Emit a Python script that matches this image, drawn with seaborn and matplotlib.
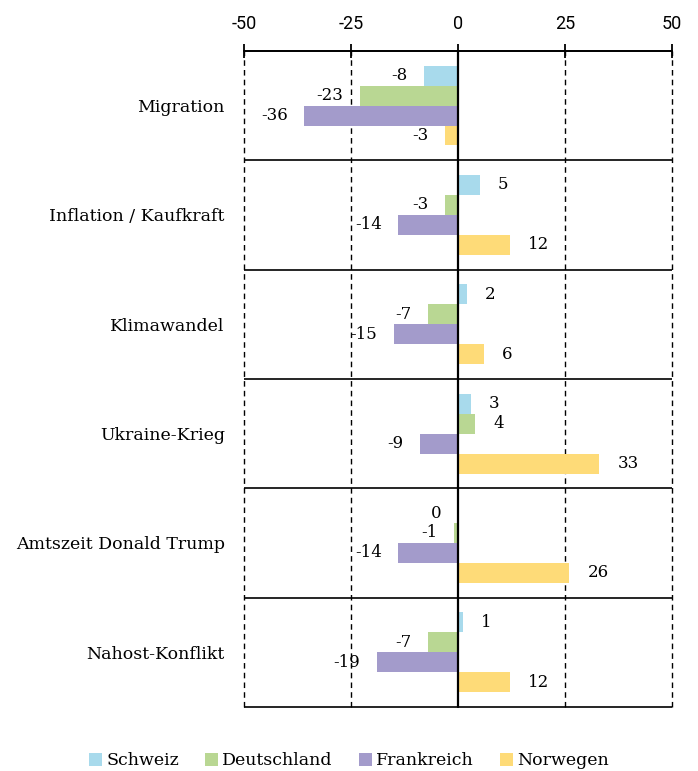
import matplotlib
matplotlib.use("Agg")
from matplotlib import pyplot as plt
from matplotlib.patches import Patch
import pandas as pd
import seaborn as sns

categories = ["Migration", "Inflation / Kaufkraft", "Klimawandel", "Ukraine-Krieg",
              "Amtszeit Donald Trump", "Nahost-Konflikt"]
countries = ["Schweiz", "Deutschland", "Frankreich", "Norwegen"]
schweiz = [-8, 5, 2, 3, 0, 1]
deutschland = [-23, -3, -7, 4, -1, -7]
frankreich = [-36, -14, -15, -9, -14, -19]
norwegen = [-3, 12, 6, 33, 26, 12]
colors = ["#a8daec", "#b9d793", "#a39bcb", "#fedb78"]
x_ticks = [-50, -25, 0, 25, 50]

values = [schweiz, deutschland, frankreich, norwegen]
rows = []
for country, vals in zip(countries, values):
    for cat, v in zip(categories, vals):
        rows.append({"Thema": cat, "Land": country, "Wert": v})
df = pd.DataFrame(rows)

sns.set_style("white")
serif = "DejaVu Serif"

f, ax = plt.subplots(figsize=(6.98, 7.71), dpi=100)
f.subplots_adjust(left=0.35, right=0.963, top=0.934, bottom=0.083)

sns.barplot(data=df, y="Thema", x="Wert", hue="Land", order=categories,
            hue_order=countries, palette=colors, orient="h", width=0.73,
            saturation=1, legend=False, linewidth=0, edgecolor="none", ax=ax)

ax.set_xlim(-50, 50)
ax.set_ylim(len(categories) - 0.5, -0.5)
ax.set_xlabel("")
ax.set_ylabel("")

# grid and frame
for x in [-50, -25, 25, 50]:
    ax.axvline(x, color="black", lw=1, ls=(0, (4, 3)), zorder=0, clip_on=False)
for y in [i + 0.5 for i in range(-1, len(categories))]:
    ax.hlines(y, -50, 50, color="black", lw=1.2, zorder=1, clip_on=False)
ax.axvline(0, color="black", lw=1.6, zorder=3, clip_on=False)
for s in ax.spines.values():
    s.set_visible(False)
ax.spines["top"].set_visible(True)
ax.spines["top"].set_color("black")
ax.spines["top"].set_linewidth(1.3)

ax.xaxis.tick_top()
ax.set_xticks(x_ticks)
ax.set_xticklabels([str(t) for t in x_ticks], fontsize=13, family="Roboto", color="black")
ax.tick_params(axis="x", direction="inout", length=10, width=1.3, pad=8,
               top=True, bottom=False, color="black")
ax.tick_params(axis="y", length=0, pad=14)
for lab in ax.get_yticklabels():
    lab.set_fontfamily(serif)
    lab.set_fontsize(12.5)
    lab.set_color("black")

# value labels
for container, vals in zip(ax.containers, values):
    for bar, v in zip(container, vals):
        y = bar.get_y() + bar.get_height() / 2
        if v > 0:
            ax.annotate(str(v), (v, y), xytext=(13, 0), textcoords="offset points",
                        ha="left", va="center", fontsize=12, family=serif, color="black")
        else:
            ax.annotate(str(v), (v, y), xytext=(-12, 0), textcoords="offset points",
                        ha="right", va="center", fontsize=12, family=serif, color="black")

handles = [Patch(facecolor=c, edgecolor="none") for c in colors]
leg = f.legend(handles, countries, loc="lower center", ncol=4, frameon=False,
               bbox_to_anchor=(0.5, -0.018), handlelength=0.75, handleheight=0.75,
               handletextpad=0.25, columnspacing=1.5,
               prop={"family": serif, "size": 12.5})
for t in leg.get_texts():
    t.set_color("black")

plt.savefig("out.png", dpi=100)
